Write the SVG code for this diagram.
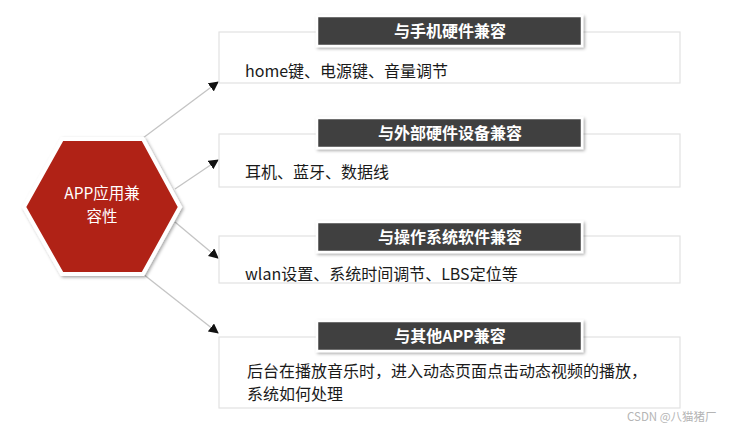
<svg xmlns="http://www.w3.org/2000/svg" width="739" height="430" viewBox="0 0 739 430">
<style>
.box{fill:#fff;stroke:#e2e2e2;stroke-width:1.2}
.bar{fill:#3f3f3f;stroke:#fff;stroke-width:2.5}
.ttl{font-family:"Noto Sans CJK SC","Liberation Sans",sans-serif;font-weight:bold;font-size:16px;fill:#fff;text-anchor:middle}
.txt{font-family:"Noto Sans CJK SC","Liberation Sans",sans-serif;font-size:16px;fill:#1a1a1a}
.con{stroke:#c4c4c4;stroke-width:1.3;fill:none;marker-end:url(#ah)}
</style>
<defs>
<marker id="ah" markerWidth="10" markerHeight="10" refX="9" refY="5" orient="auto" markerUnits="userSpaceOnUse">
<path d="M0,0 L10,5 L0,10 Z" fill="#111"/>
</marker>
<filter id="sh" x="-10%" y="-20%" width="120%" height="150%">
<feDropShadow dx="1.5" dy="1.5" stdDeviation="1.5" flood-color="#000" flood-opacity="0.35"/>
</filter>
</defs>
<rect width="739" height="430" fill="#fff"/>
<g id="connectors">
<line class="con" x1="143" y1="138" x2="218" y2="82"/>
<line class="con" x1="175" y1="189" x2="218" y2="160"/>
<line class="con" x1="175" y1="222" x2="218" y2="258"/>
<line class="con" x1="143" y1="274" x2="218" y2="333"/>
</g>
<g id="hub">
<polygon points="62,139 143,139 180,207 143,274 62,274 24,207" fill="#b02418" stroke="#fff" stroke-width="4" filter="url(#sh)"/>
<text x="102" y="199" font-family="Noto Sans CJK SC,Liberation Sans,sans-serif" font-size="15.5" fill="#fff" text-anchor="middle">APP应用兼</text>
<text x="102" y="222" font-family="Noto Sans CJK SC,Liberation Sans,sans-serif" font-size="15.5" fill="#fff" text-anchor="middle">容性</text>
</g>
<g id="n1">
<rect class="box" x="219" y="32" width="461" height="51"/>
<rect class="bar" x="317" y="16" width="265" height="30" filter="url(#sh)"/>
<text class="ttl" x="450" y="37">与手机硬件兼容</text>
<text class="txt" x="245" y="77">home键、电源键、音量调节</text>
</g>
<g id="n2">
<rect class="box" x="219" y="134" width="461" height="53"/>
<rect class="bar" x="317" y="118" width="265" height="30" filter="url(#sh)"/>
<text class="ttl" x="450" y="139">与外部硬件设备兼容</text>
<text class="txt" x="245" y="178">耳机、蓝牙、数据线</text>
</g>
<g id="n3">
<rect class="box" x="219" y="236" width="461" height="47"/>
<rect class="bar" x="317" y="222" width="265" height="30" filter="url(#sh)"/>
<text class="ttl" x="450" y="243">与操作系统软件兼容</text>
<text class="txt" x="245" y="280">wlan设置、系统时间调节、LBS定位等</text>
</g>
<g id="n4">
<rect class="box" x="219" y="337" width="461" height="71"/>
<rect class="bar" x="317" y="321" width="265" height="30" filter="url(#sh)"/>
<text class="ttl" x="450" y="342">与其他APP兼容</text>
<text class="txt" x="247" y="377">后台在播放音乐时，进入动态页面点击动态视频的播放，</text>
<text class="txt" x="247" y="400">系统如何处理</text>
</g>
<text x="627" y="421" font-family="Noto Sans CJK SC,Liberation Sans,sans-serif" font-size="11.5" fill="#b5b5b5">CSDN @八猫猪厂</text>
</svg>
